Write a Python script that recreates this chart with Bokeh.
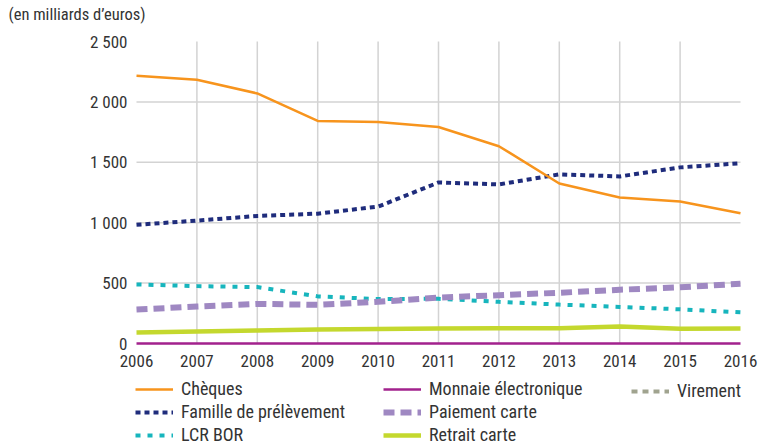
from bokeh.plotting import figure
from bokeh.models import Range1d, FixedTicker, Legend, LegendItem, Label
from bokeh.embed import file_html
from bokeh.resources import INLINE

# ---- data (milliards d'euros) ----
years = [2006, 2007, 2008, 2009, 2010, 2011, 2012, 2013, 2014, 2015, 2016]
cheques = [2217, 2183, 2070, 1842, 1833, 1792, 1633, 1325, 1208, 1175, 1078]
prelevement = [983, 1017, 1056, 1075, 1133, 1333, 1317, 1400, 1383, 1458, 1492]
lcr_bor = [489, 475, 467, 390, 368, 370, 345, 322, 303, 283, 258]
monnaie_electronique = [0, 0, 0, 0, 0, 0, 0, 0, 0, 0, 0]
paiement_carte = [281, 306, 328, 320, 345, 380, 400, 420, 445, 465, 495]
retrait_carte = [92, 100, 108, 115, 120, 125, 127, 127, 140, 122, 125]
virement = [17500, 18200, 18900, 18600, 19300, 20100, 20800, 21500, 22300, 23100, 23900]  # hors échelle

ytick_vals = [0, 500, 1000, 1500, 2000, 2500]
ytick_labels = ["0", "500", "1 000", "1 500", "2 000", "2 500"]
title_text = "(en milliards d\u2019euros)"

FONT = "'Roboto Condensed', 'Liberation Sans Narrow', Roboto, sans-serif"
TXT = "#333333"
GRID = "#D3D3D3"

W, H = 759, 445
# pixel anchors of the plotting area inside the figure
X0_PX, X1_PX = 136, 740      # first / last year
Y0_PX, Y1_PX = 343, 41       # 0 / top tick
xs = (X1_PX - X0_PX) / (years[-1] - years[0])
ys = (Y0_PX - Y1_PX) / (ytick_vals[-1] - ytick_vals[0])
x_range = Range1d(years[0] - X0_PX / xs, years[-1] + (W - X1_PX) / xs)
y_range = Range1d(ytick_vals[0] - (H - Y0_PX) / ys, ytick_vals[-1] + Y1_PX / ys)

# the frame covers the whole figure; axes sit at fixed data positions
p = figure(width=W, height=H, output_backend="svg", toolbar_location=None,
           title=None, x_range=x_range, y_range=y_range,
           min_border_left=0, min_border_right=0, min_border_top=0,
           min_border_bottom=0)
p.outline_line_color = None
p.background_fill_color = "white"
p.border_fill_color = "white"

for ax in (p.xaxis, p.yaxis):
    ax.axis_line_color = None
    ax.major_tick_line_color = None
    ax.minor_tick_line_color = None
    ax.major_tick_out = 0
    ax.major_tick_in = 0
    ax.minor_tick_out = 0
    ax.minor_tick_in = 0
    ax.major_label_text_font = FONT
    ax.major_label_text_font_size = "17px"
    ax.major_label_text_color = TXT

p.xaxis.ticker = FixedTicker(ticks=years)
p.xaxis.fixed_location = ytick_vals[0]
p.xaxis.major_label_standoff = 11
p.yaxis.ticker = FixedTicker(ticks=ytick_vals)
p.yaxis.fixed_location = years[0]
p.yaxis.major_label_overrides = {v: l for v, l in zip(ytick_vals, ytick_labels)}
p.yaxis.major_label_standoff = 9

p.xgrid.visible = False
p.ygrid.visible = False

# grid lines limited to the data area
inner_years = years[1:-1]
p.segment(x0=inner_years, x1=inner_years,
          y0=[ytick_vals[0]] * len(inner_years), y1=[ytick_vals[-1]] * len(inner_years),
          line_color=GRID, line_width=1.5)
inner_ticks = ytick_vals[1:-1]
p.segment(x0=[years[0]] * len(inner_ticks), x1=[years[-1]] * len(inner_ticks),
          y0=inner_ticks, y1=inner_ticks, line_color=GRID, line_width=1.5)

r_vir = p.line(years, virement, line_color="#A0A38F", line_width=4, line_dash="6 5")
r_lcr = p.line(years, lcr_bor, line_color="#17B5BD", line_width=4, line_dash="5 7")
r_pai = p.line(years, paiement_carte, line_color="#9F88C2", line_width=6, line_dash="11 6")
r_ret = p.line(years, retrait_carte, line_color="#C4D82E", line_width=4.5)
r_mon = p.line(years, monnaie_electronique, line_color="#A2228D", line_width=2.5)
r_pre = p.line(years, prelevement, line_color="#1F2C7C", line_width=4, line_dash="5 4")
r_che = p.line(years, cheques, line_color="#F7941D", line_width=2.5)


def add_legend(items, x, y):
    lg = Legend(items=items, location=(x, y), orientation="vertical",
                label_text_font=FONT, label_text_font_size="18px",
                label_text_color=TXT, glyph_width=38, glyph_height=20,
                label_height=20, label_standoff=8, spacing=2, padding=0,
                margin=0, border_line_color=None, background_fill_alpha=0)
    p.add_layout(lg, "center")


add_legend([LegendItem(label="Chèques", renderers=[r_che]),
            LegendItem(label="Famille de prélèvement", renderers=[r_pre]),
            LegendItem(label="LCR BOR", renderers=[r_lcr])], 135, 0)
add_legend([LegendItem(label="Monnaie électronique", renderers=[r_mon]),
            LegendItem(label="Paiement carte", renderers=[r_pai]),
            LegendItem(label="Retrait carte", renderers=[r_ret])], 383, 0)
add_legend([LegendItem(label="Virement", renderers=[r_vir])], 631, 44)

p.add_layout(Label(x=8, y=H - 14, x_units="screen", y_units="screen",
                   text=title_text, text_font=FONT, text_font_size="16.5px",
                   text_color=TXT, text_baseline="middle", text_align="left"))

open("out.html", "w").write(file_html(p, INLINE))
